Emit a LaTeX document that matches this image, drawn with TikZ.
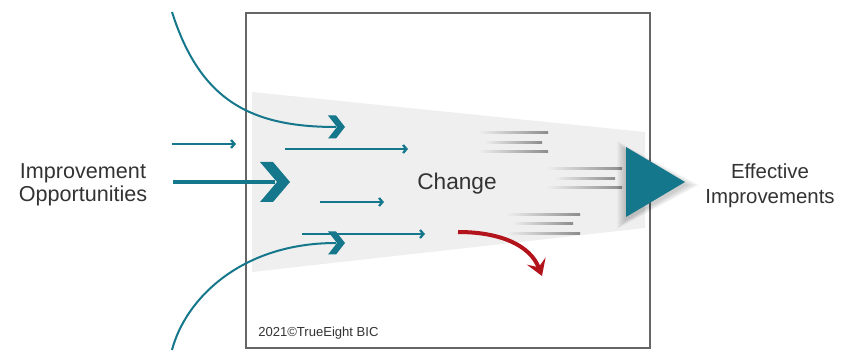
\documentclass[tikz,border=0pt]{standalone}
\usepackage{fontspec}
\setmainfont{Liberation Sans}
\usetikzlibrary{arrows.meta}
\definecolor{teal1}{HTML}{15778B}
\definecolor{boxgray}{HTML}{666666}
\definecolor{wedge}{HTML}{EFEFEF}
\definecolor{txt}{HTML}{333333}
\definecolor{redarr}{HTML}{B3141C}
\tikzset{
  frame/.style={draw=boxgray, line width=1.5pt},
  label/.style={text=txt, align=center, inner sep=0pt},
  thin/.style={draw=teal1, line width=0.8pt,
    -{Straight Barb[length=2.6pt,width=6pt,line width=1.7pt]}},
  curve/.style={draw=teal1, line width=1.5pt},
  bigchev/.pic={\fill[teal1] (0,0) -- (-17,-20) -- (-30,-20) -- (-13,0) -- (-30,20) -- (-17,20) -- cycle;},
  smallchev/.pic={\fill[teal1] (0,0) -- (-9,-11.5) -- (-17,-11.5) -- (-8,0) -- (-17,11.5) -- (-9,11.5) -- cycle;},
  speed/.style={left color=wedge, right color=black!45},
  glow/.style={fill=black, fill opacity=0.025},
}
\begin{document}
\begin{tikzpicture}[x=0.75pt,y=-0.75pt]
\useasboundingbox (0,0) rectangle (845,352);

% change funnel
\fill[wedge] (252,92) -- (645,132) -- (645,228) -- (252,272) -- cycle;

% frame
\draw[frame] (246,13) rectangle (650,348);

% speed lines
\foreach \xa/\xb/\y in {478/548/133, 484/542/143, 478/548/152,
                        546/622/169, 554/615/179, 546/622/188,
                        506/580/215, 512/573/224, 506/580/234}
  \shade[speed] (\xa,\y-1) rectangle (\xb,\y+1);

% texts
\node[label, font=\fontsize{16.2}{17.3}\selectfont] (inp) at (83,185) {Improvement\\Opportunities};
\node[label, font=\fontsize{15.3}{18.8}\selectfont] (outp) at (770,186) {Effective\\Improvements};
\node[label, font=\fontsize{17}{20}\selectfont] (chg) at (457,184) {Change};
\node[label, font=\fontsize{9.8}{12}\selectfont, anchor=west] (copy) at (258,333) {2021©TrueEight BIC};

% output triangle with a soft glow underneath
\coordinate (tA) at (626,147);
\coordinate (tB) at (685,182);
\coordinate (tC) at (626,217);
\foreach \s in {1,...,9}
  \path[glow] (626-\s,147-\s+3) -- (685+1.6*\s,182+3) -- (626-\s,217+\s+3) -- cycle;
\fill[teal1] (tA) -- (tB) -- (tC) -- cycle;

% thin arrows
\coordinate (a1s) at (172,144); \coordinate (a1e) at (236,144);
\coordinate (a2s) at (285,149); \coordinate (a2e) at (408,149);
\coordinate (a3s) at (320,202); \coordinate (a3e) at (384,202);
\coordinate (a4s) at (302,234); \coordinate (a4e) at (425,234);
\draw[thin] (a1s) -- (a1e);
\draw[thin] (a2s) -- (a2e);
\draw[thin] (a3s) -- (a3e);
\draw[thin] (a4s) -- (a4e);

% main input arrow
\coordinate (mS) at (173,182);
\coordinate (mE) at (275,182);
\coordinate (mTip) at (290,182);
\draw[teal1, line width=3.2pt] (mS) -- (mE);
\pic at (mTip) {bigchev};

% curved inputs
\coordinate (cTs) at (172,12);
\coordinate (cTe) at (336,127);
\coordinate (cTtip) at (345,127);
\draw[curve] (cTs) .. controls (200,100) and (250,127) .. (cTe);
\pic at (cTtip) {smallchev};

\coordinate (cBs) at (172,350);
\coordinate (cBe) at (336,243);
\coordinate (cBtip) at (345,243);
\draw[curve] (cBs) .. controls (185,300) and (240,243) .. (cBe);
\pic at (cBtip) {smallchev};

% deflected change
\coordinate (rS) at (458,232);
\coordinate (rE) at (542,276);
\draw[redarr, line width=3pt, -{Stealth[length=12pt,width=15pt,inset=5pt]}]
  (rS) .. controls (500,232) and (530,245) .. (rE);
\end{tikzpicture}
\end{document}
